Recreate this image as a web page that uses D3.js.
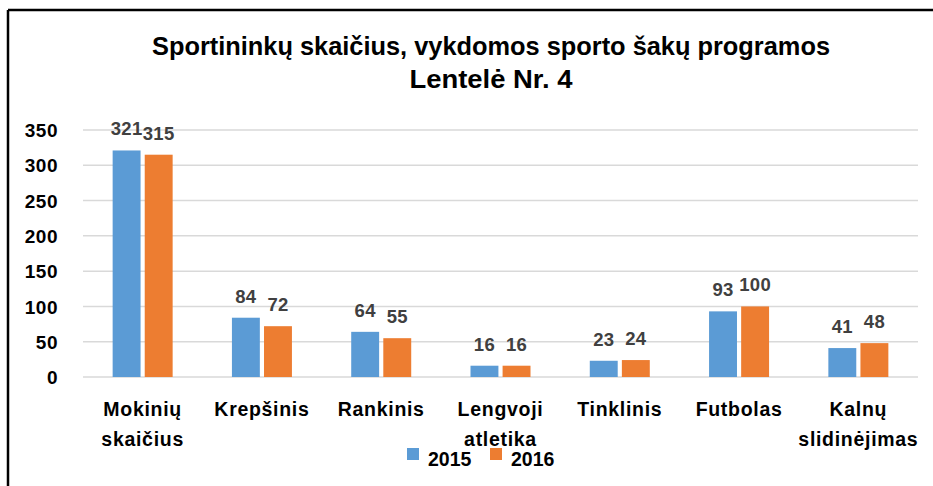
<!DOCTYPE html>
<html lang="lt">
<head>
<meta charset="UTF-8">
<title>Sportininkų skaičius</title>
<script src="https://d3js.org/d3.v7.min.js"></script>
<style>
    body { margin: 0; background: #fff; }
    svg text { font-family: "Liberation Sans", Arial, sans-serif; font-weight: bold; }
</style>
</head>
<body>
<svg width="933" height="486"></svg>
<script>
    // Duomenys
    const categories = ["Mokinių\nskaičius", "Krepšinis", "Rankinis", "Lengvoji\natletika", "Tinklinis", "Futbolas", "Kalnų\nslidinėjimas"];
    const seriesNames = ["2015", "2016"];
    const values2015 = [321, 84, 64, 16, 23, 93, 41];
    const values2016 = [315, 72, 55, 16, 24, 100, 48];
    const yTicks = [0, 50, 100, 150, 200, 250, 300, 350];
    const colors = ["#5b9bd5", "#ed7d31"];

    const width = 933, height = 486;
    const margin = {top: 130, right: 15, bottom: 109, left: 83};

    const svg = d3.select("svg");

    // Cadre
    svg.append("line").attr("x1", 8).attr("x2", width).attr("y1", 10).attr("y2", 10)
        .attr("stroke", "#000").attr("stroke-width", 2.5);
    svg.append("line").attr("x1", 8).attr("x2", 8).attr("y1", 10).attr("y2", height)
        .attr("stroke", "#000").attr("stroke-width", 2.5);

    // Titre
    svg.append("text").attr("x", 491).attr("y", 55).attr("text-anchor", "middle")
        .attr("font-size", 25).attr("textLength", 678).attr("lengthAdjust", "spacingAndGlyphs")
        .text("Sportininkų skaičius, vykdomos sporto šakų programos");
    svg.append("text").attr("x", 491).attr("y", 88).attr("text-anchor", "middle")
        .attr("font-size", 25).attr("textLength", 163).attr("lengthAdjust", "spacingAndGlyphs")
        .text("Lentelė Nr. 4");

    const x = d3.scaleBand()
        .domain(categories)
        .range([margin.left, width - margin.right]);

    const y = d3.scaleLinear()
        .domain([0, 350])
        .range([height - margin.bottom, margin.top]);

    // Grille
    svg.append("g")
        .selectAll("line")
        .data(yTicks)
        .enter().append("line")
        .attr("x1", margin.left).attr("x2", width - margin.right)
        .attr("y1", d => y(d)).attr("y2", d => y(d))
        .attr("stroke", "#d9d9d9").attr("stroke-width", 1.5);

    // Axe Y
    const yAxis = svg.append("g")
        .attr("transform", `translate(58,0)`)
        .call(d3.axisLeft(y).tickValues(yTicks).tickSize(0).tickPadding(0));
    yAxis.select(".domain").remove();
    yAxis.selectAll("text").attr("font-size", 19).attr("letter-spacing", 0.5).attr("fill", "#000").attr("dy", "0.35em");

    // Axe X
    const xAxis = svg.append("g")
        .attr("transform", `translate(0,${height - margin.bottom})`)
        .call(d3.axisBottom(x).tickSize(0).tickPadding(0));
    xAxis.select(".domain").remove();
    xAxis.selectAll("text").each(function(d) {
        const t = d3.select(this).text("").attr("font-size", 19.5).attr("letter-spacing", 0.7)
            .attr("fill", "#000").attr("dy", null).attr("y", 0);
        d.split("\n").forEach((line, i) => {
            t.append("tspan").attr("x", 0).attr("y", 39 + i * 30).text(line);
        });
    });

    // Barres
    const sub = d3.scaleBand().domain(seriesNames).range([0, 60]).paddingInner(0.13);
    const offset = (x.bandwidth() - 60) / 2;
    const series = [values2015, values2016];

    series.forEach((vals, s) => {
        const g = svg.append("g");
        g.selectAll("rect")
            .data(vals)
            .enter().append("rect")
            .attr("x", (d, i) => x(categories[i]) + offset + sub(seriesNames[s]))
            .attr("y", d => y(d))
            .attr("width", sub.bandwidth())
            .attr("height", d => y(0) - y(d))
            .attr("fill", colors[s]);
        g.selectAll("text")
            .data(vals)
            .enter().append("text")
            .attr("x", (d, i) => x(categories[i]) + offset + sub(seriesNames[s]) + sub.bandwidth() / 2)
            .attr("y", d => y(d) - 15)
            .attr("text-anchor", "middle")
            .attr("font-size", 18.5)
            .attr("letter-spacing", 0.3)
            .attr("fill", "#404040")
            .text(d => d);
    });

    // Légende
    const legend = svg.append("g");
    const legendX = [407, 490];
    seriesNames.forEach((name, i) => {
        legend.append("rect").attr("x", legendX[i]).attr("y", 448).attr("width", 12).attr("height", 12).attr("fill", colors[i]);
        legend.append("text").attr("x", legendX[i] + 21).attr("y", 466).attr("font-size", 19.5).attr("fill", "#000").text(name);
    });
</script>
</body>
</html>
